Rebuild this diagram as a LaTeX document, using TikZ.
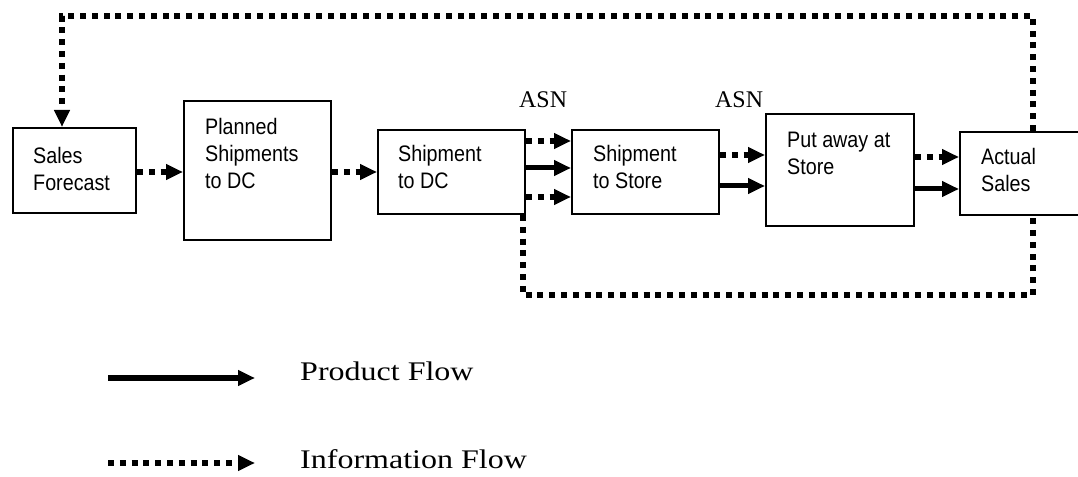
\documentclass[tikz,border=0pt]{standalone}
\usepackage{fontspec}
\usetikzlibrary{arrows.meta}
\newfontfamily\boxfont[FakeStretch=0.88]{Liberation Sans}
\newfontfamily\asnfont{Liberation Serif}
\newfontfamily\legendfont[FakeStretch=1.19]{Liberation Serif}

\tikzset{
  stagebox/.style={draw, line width=2bp, inner sep=0pt, anchor=north west},
  boxtext/.style={inner sep=0pt, anchor=north west, align=left,
    font=\boxfont\fontsize{22.5}{27}\selectfont},
  asn/.style={inner sep=0pt, anchor=base west, font=\asnfont\fontsize{24}{28}\selectfont},
  legendtext/.style={inner sep=0pt, anchor=base west, font=\legendfont\fontsize{27}{30}\selectfont},
  tip/.style={-{Triangle[length=17bp,width=15bp]}},
  product/.style={line width=5bp, tip},
  info/.style={line width=5.5bp, dash pattern=on 6bp off 5.8bp},
}

\begin{document}
\begin{tikzpicture}[x=1bp, y=-1bp]
  \useasboundingbox (0,0) rectangle (1078,477);
  \clip (0,0) rectangle (1078,477);

  % process stages
  \node[stagebox, minimum width=123bp, minimum height=85bp]  (sf)  at (12,127)  {};
  \node[stagebox, minimum width=147bp, minimum height=139bp] (ps)  at (183,100) {};
  \node[stagebox, minimum width=147bp, minimum height=84bp]  (sdc) at (377,129) {};
  \node[stagebox, minimum width=147bp, minimum height=84bp]  (ss)  at (571,129) {};
  \node[stagebox, minimum width=148bp, minimum height=112bp] (pa)  at (765,113) {};
  \node[stagebox, minimum width=140bp, minimum height=83bp]  (as)  at (959,131) {};

  % stage labels
  \node[boxtext] (sft)  at (33,147)  {Sales\\Forecast};
  \node[boxtext] (pst)  at (205,118) {Planned\\Shipments\\to DC};
  \node[boxtext] (sdct) at (398,145) {Shipment\\to DC};
  \node[boxtext] (sst)  at (593,145) {Shipment\\to Store};
  \node[boxtext] (pat)  at (787,132) {Put away at\\Store};
  \node[boxtext] (ast)  at (981,148) {Actual\\Sales};

  \node[asn] (asn1) at (519,108) {ASN};
  \node[asn] (asn2) at (715,108) {ASN};

  % flows between stages
  \draw[info, tip] (sf.east |- 0,172) -- (ps.west |- 0,172);
  \draw[info, tip] (ps.east |- 0,172) -- (sdc.west |- 0,172);

  \draw[info, tip] (sdc.east |- 0,141) -- (ss.west |- 0,141);
  \draw[product]   (sdc.east |- 0,168) -- (ss.west |- 0,168);
  \draw[info, tip] (sdc.east |- 0,197) -- (ss.west |- 0,197);

  \draw[info, tip] (ss.east |- 0,155) -- (pa.west |- 0,155);
  \draw[product]   (ss.east |- 0,186) -- (pa.west |- 0,186);

  \draw[info, tip] (pa.east |- 0,157) -- (as.west |- 0,157);
  \draw[product]   (pa.east |- 0,189) -- (as.west |- 0,189);

  % feedback loops
  \draw[info, tip] (as.north -| 1033,0) -- (1033,16) -- (62,16) -- (sf.north -| 62,0);
  \draw[info] (sdc.south -| 523,0) -- (523,295) -- (1033,295) -- (as.south -| 1033,0);

  % legend
  \coordinate (lp1) at (108,378);
  \coordinate (lp2) at (255,378);
  \coordinate (li1) at (108,463);
  \coordinate (li2) at (255,463);
  \draw[product, line width=6bp] (lp1) -- (lp2);
  \draw[info, tip] (li1) -- (li2);
  \node[legendtext] (lpt) at (300,381) {Product Flow};
  \node[legendtext] (lit) at (300,468) {Information Flow};
\end{tikzpicture}
\end{document}
